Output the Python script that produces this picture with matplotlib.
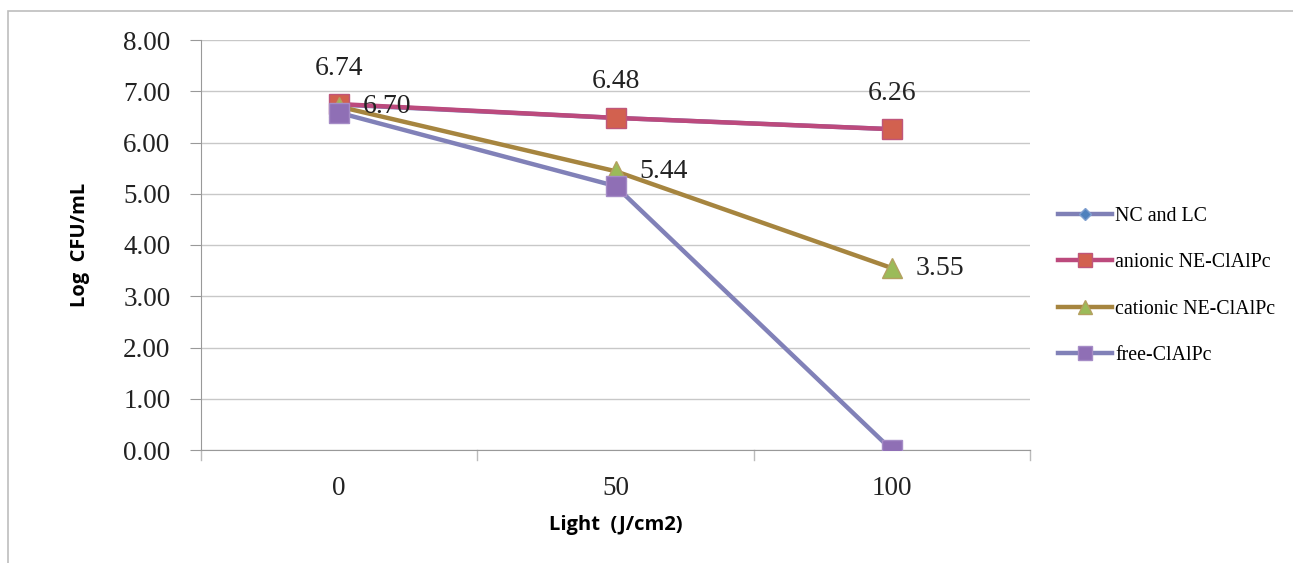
import matplotlib.pyplot as plt
from matplotlib.patches import Rectangle

categories = ["0", "50", "100"]
nc_lc = [6.74, 6.48, 6.26]
anionic = [6.75, 6.48, 6.26]
cationic = [6.70, 5.44, 3.55]
free = [6.58, 5.15, 0.00]

fig = plt.figure(figsize=(12.93, 5.63), dpi=100)
ax = fig.add_axes([201 / 1293, 1 - 450 / 563, 829 / 1293, 410 / 563])

# outer chart frame (top and left edges visible)
fig.patches.append(Rectangle((8 / 1293, -0.1), 1.2, 1 - 11 / 563 + 0.1,
                             transform=fig.transFigure, fill=False,
                             edgecolor="#bdbdbd", linewidth=1.2))

x = range(len(categories))
lw = 3.2
ax.plot(x, nc_lc, color="#7f80b6", lw=lw, marker="D", ms=10,
        mfc="#4f81bd", mec="#7f9fcf", label="NC and LC", zorder=3)
ax.plot(x, anionic, color="#bc4a7d", lw=lw, marker="s", ms=15,
        mfc="#d2614f", mec="#c0567a", label="anionic NE-ClAlPc", zorder=4)
ax.plot(x, cationic, color="#a6853f", lw=lw, marker="^", ms=15,
        mfc="#9bbb59", mec="#b4a060", label="cationic NE-ClAlPc", zorder=5)
ax.plot(x, free, color="#8181b8", lw=lw, marker="s", ms=15,
        mfc="#8f6fb5", mec="#a58cc6", label="free-ClAlPc", zorder=6)

serif = "Liberation Serif"
for i, v in enumerate(nc_lc):
    ax.annotate(f"{v:.2f}", (i, v), xytext=(0, 17), textcoords="offset points",
                ha="center", va="bottom", fontsize=20, family=serif, color="#222222")
for i, v in enumerate(cationic):
    ax.annotate(f"{v:.2f}", (i, v), xytext=(17, 0), textcoords="offset points",
                ha="left", va="center", fontsize=20, family=serif, color="#222222",
                zorder=7)

ax.set_xlim(-0.5, 2.5)
ax.set_ylim(0, 8)
ax.set_yticks(range(0, 9))
ax.set_yticklabels([f"{t:.2f}" for t in range(0, 9)], family=serif, fontsize=19.5)
ax.set_xticks(list(x))
ax.set_xticklabels(categories, family=serif, fontsize=19.5)
ax.tick_params(axis="x", length=0, pad=19, colors="#222222")
ax.tick_params(axis="y", length=8, color="#999999", pad=14, colors="#222222")
for b in [-0.5, 0.5, 1.5, 2.5]:
    ax.plot([b, b], [0, -0.2], color="#bbbbbb", lw=1, clip_on=False)

ax.grid(axis="y", color="#c8c8c8", lw=1)
ax.set_axisbelow(True)
for s in ["top", "right"]:
    ax.spines[s].set_visible(False)
ax.spines["left"].set_color("#999999")
ax.spines["bottom"].set_color("#999999")

ax.set_xlabel("Light  (J/cm2)", fontsize=14.5, fontweight="bold",
              family="Open Sans", labelpad=10)
ax.set_ylabel("Log  CFU/mL", fontsize=14.5, fontweight="bold",
              family="Open Sans", labelpad=24)

leg = ax.legend(loc="center left", bbox_to_anchor=(1.0, 0.40), frameon=False,
                prop={"family": serif, "size": 14.3}, handlelength=2.75,
                labelspacing=1.38, handletextpad=0.15, borderaxespad=1.0)
for h in leg.legend_handles:
    h.set_markersize(h.get_markersize() * 0.65)

plt.savefig("out.png", dpi=100)
plt.close()
